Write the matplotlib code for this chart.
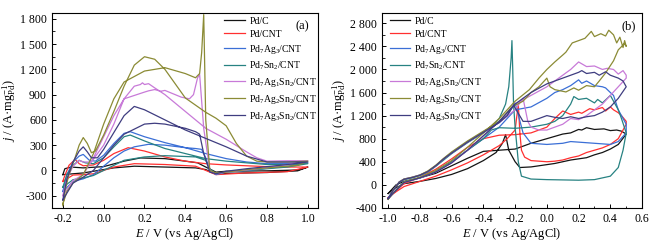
import numpy as np
import matplotlib
matplotlib.use('Agg')
import matplotlib.pyplot as plt
from matplotlib.ticker import MultipleLocator, FuncFormatter

plt.rcParams['font.family'] = ['Liberation Serif', 'DejaVu Serif']
plt.rcParams['mathtext.fontset'] = 'custom'
plt.rcParams['mathtext.rm'] = 'Liberation Serif'
plt.rcParams['mathtext.it'] = 'Liberation Serif:italic'
plt.rcParams['axes.unicode_minus'] = False

labels = ['Pd/C', 'Pd/CNT', 'Pd$_7$Ag$_3$/CNT', 'Pd$_7$Sn$_2$/CNT',
          'Pd$_7$Ag$_1$Sn$_2$/CNT', 'Pd$_7$Ag$_2$Sn$_2$/CNT', 'Pd$_7$Ag$_3$Sn$_2$/CNT']
colors = ['#141414', '#ff3030', '#3b6fd6', '#278282', '#c87ad8', '#8b8b35', '#3f3d80']

# ---- (a) CV, E (V) and j (A/mg Pd), forward then reverse scan
a_pdc = [(-0.2, -50), (-0.19, 20), (-0.16, 40), (-0.1, 30), (0.0, 45), (0.1, 110), (0.18, 148),
         (0.3, 140), (0.4, 110), (0.46, 90), (0.5, 40), (0.55, -20), (0.6, -10), (0.8, -5), (0.95, 5), (1.0, 40),
         (0.95, -5), (0.8, -25), (0.6, -35), (0.55, -45), (0.5, 10), (0.45, 30), (0.3, 40), (0.15, 50),
         (0.05, 30), (0.0, 10), (-0.1, -30), (-0.15, -40), (-0.2, -50)]
a_pdcnt = [(-0.2, -130), (-0.19, -60), (-0.17, 60), (-0.14, 130), (-0.12, 80), (-0.1, 55), (-0.05, 65),
           (0.0, 120), (0.05, 200), (0.12, 270), (0.2, 230), (0.3, 160), (0.4, 110), (0.5, 80), (0.6, 65),
           (0.7, 55), (0.8, 45), (0.9, 40), (1.0, 40),
           (0.9, -15), (0.7, -30), (0.55, -50), (0.5, 0), (0.45, 50), (0.3, 70), (0.15, 80), (0.05, 40),
           (0.0, 0), (-0.05, -40), (-0.1, -50), (-0.15, -55), (-0.2, -130)]
a_pdag = [(-0.2, -250), (-0.18, -50), (-0.15, 100), (-0.12, 170), (-0.1, 190), (-0.07, 120), (-0.04, 110),
          (0.0, 180), (0.05, 320), (0.1, 440), (0.13, 460), (0.2, 400), (0.3, 330), (0.4, 270), (0.5, 200),
          (0.6, 140), (0.7, 100), (0.8, 80), (0.9, 80), (1.0, 90),
          (0.9, 50), (0.7, 0), (0.6, -20), (0.55, -50), (0.52, 0), (0.5, 150), (0.48, 250), (0.45, 260),
          (0.4, 270), (0.3, 300), (0.22, 310), (0.15, 280), (0.1, 230), (0.05, 150), (0.0, 50),
          (-0.05, -50), (-0.1, -100), (-0.15, -130), (-0.2, -250)]
a_pdsn = [(-0.2, -200), (-0.18, -50), (-0.15, 60), (-0.12, 120), (-0.09, 90), (-0.05, 80), (0.0, 150),
          (0.05, 280), (0.1, 400), (0.13, 420), (0.2, 350), (0.3, 260), (0.4, 200), (0.5, 140), (0.6, 110),
          (0.7, 90), (0.8, 70), (0.9, 70), (1.0, 80),
          (0.9, 40), (0.7, 0), (0.6, -20), (0.55, -40), (0.52, 20), (0.5, 120), (0.45, 160), (0.3, 175),
          (0.2, 160), (0.1, 120), (0.05, 60), (0.0, 0), (-0.05, -60), (-0.1, -90), (-0.15, -110), (-0.2, -200)]
a_ag1 = [(-0.2, -300), (-0.18, -100), (-0.15, 50), (-0.12, 120), (-0.1, 100), (-0.06, 100), (0.0, 300),
         (0.05, 550), (0.1, 850), (0.15, 1000), (0.18, 1020), (0.19, 1040), (0.2, 1020), (0.22, 1030),
         (0.25, 980), (0.3, 900), (0.4, 700), (0.5, 500), (0.6, 370), (0.7, 220), (0.75, 150), (0.8, 110),
         (0.9, 115), (1.0, 115),
         (0.9, 70), (0.8, 30), (0.6, -20), (0.55, -40), (0.52, 0), (0.49, 500), (0.47, 1140), (0.46, 1100),
         (0.44, 900), (0.42, 850), (0.38, 870), (0.32, 930), (0.3, 950), (0.28, 940), (0.25, 960),
         (0.22, 945), (0.2, 930), (0.1, 850), (0.05, 650), (0.0, 400), (-0.05, 150), (-0.1, -50),
         (-0.15, -120), (-0.2, -300)]
a_ag2 = [(-0.2, -420), (-0.19, -250), (-0.17, -50), (-0.14, 150), (-0.12, 300), (-0.1, 390), (-0.08, 320),
         (-0.06, 210), (-0.04, 230), (0.0, 420), (0.05, 700), (0.1, 1000), (0.15, 1250), (0.2, 1350),
         (0.25, 1320), (0.3, 1200), (0.4, 860), (0.5, 690), (0.55, 620), (0.6, 530), (0.65, 320), (0.7, 170),
         (0.75, 110), (0.8, 100), (0.9, 100), (1.0, 110),
         (0.95, 60), (0.8, 30), (0.7, 10), (0.6, -20), (0.55, -30), (0.52, 0), (0.5, 600), (0.49, 1850),
         (0.48, 1400), (0.47, 1150), (0.45, 1100), (0.4, 1150), (0.3, 1220), (0.2, 1180), (0.1, 1050),
         (0.05, 850), (0.0, 550), (-0.05, 200), (-0.1, -50), (-0.15, -150), (-0.18, -250), (-0.2, -400)]
a_ag3 = [(-0.2, -350), (-0.18, -100), (-0.15, 100), (-0.12, 230), (-0.1, 280), (-0.08, 220), (-0.06, 150),
         (-0.03, 150), (0.0, 250), (0.05, 450), (0.1, 650), (0.15, 760), (0.2, 720), (0.3, 600), (0.4, 480),
         (0.5, 380), (0.6, 280), (0.7, 170), (0.8, 100), (0.9, 100), (1.0, 100),
         (0.9, 70), (0.7, 20), (0.6, -10), (0.55, -40), (0.52, -20), (0.49, 200), (0.47, 430), (0.45, 460),
         (0.4, 500), (0.3, 550), (0.25, 560), (0.2, 550), (0.1, 430), (0.05, 300), (0.0, 150), (-0.05, 0),
         (-0.1, -80), (-0.15, -150), (-0.2, -350)]

# ---- (b) CV
b_pdc = [(-1.0, -150), (-0.95, -50), (-0.9, 20), (-0.8, 60), (-0.7, 110), (-0.6, 180), (-0.5, 280),
         (-0.4, 420), (-0.32, 560), (-0.28, 720), (-0.26, 870), (-0.24, 600), (-0.2, 400), (-0.17, 300),
         (-0.1, 310), (0.0, 350), (0.05, 370), (0.1, 400), (0.15, 430), (0.2, 450), (0.25, 470), (0.3, 520),
         (0.35, 560), (0.4, 620), (0.45, 700), (0.5, 880),
         (0.47, 930), (0.44, 950), (0.4, 940), (0.36, 970), (0.3, 960), (0.25, 990), (0.22, 950), (0.2, 960),
         (0.15, 900), (0.1, 880), (0.05, 840), (0.0, 800), (-0.1, 720), (-0.2, 620), (-0.3, 600),
         (-0.4, 580), (-0.5, 460), (-0.6, 330), (-0.7, 200), (-0.8, 120), (-0.9, 60), (-0.95, 0), (-1.0, -150)]
b_pdcnt = [(-1.0, -220), (-0.95, -120), (-0.9, -30), (-0.8, 60), (-0.7, 150), (-0.6, 260), (-0.5, 380),
           (-0.4, 520), (-0.3, 680), (-0.25, 800), (-0.2, 950), (-0.18, 1400), (-0.17, 900), (-0.16, 600),
           (-0.14, 480), (-0.1, 420), (0.0, 400), (0.05, 410), (0.1, 430), (0.15, 470), (0.2, 500),
           (0.25, 560), (0.3, 600), (0.35, 640), (0.4, 700), (0.45, 800), (0.5, 1050),
           (0.5, 1100), (0.47, 1200), (0.45, 1250), (0.42, 1300), (0.4, 1350), (0.37, 1280), (0.35, 1340),
           (0.3, 1300), (0.27, 1320), (0.22, 1240), (0.2, 1260), (0.15, 1220), (0.1, 1280), (0.05, 1150),
           (0.0, 1000), (-0.1, 900), (-0.2, 870), (-0.3, 860), (-0.4, 800), (-0.5, 650), (-0.6, 450),
           (-0.7, 270), (-0.8, 130), (-0.9, 20), (-1.0, -220)]
b_pdag = [(-1.0, -230), (-0.97, -100), (-0.93, 50), (-0.9, 100), (-0.85, 130), (-0.8, 170), (-0.75, 230),
          (-0.7, 330), (-0.65, 450), (-0.6, 560), (-0.5, 750), (-0.4, 920), (-0.3, 1080), (-0.25, 1200),
          (-0.2, 1420), (-0.15, 900), (-0.1, 720), (0.0, 700), (0.1, 720), (0.15, 750), (0.2, 740),
          (0.3, 720), (0.4, 700), (0.45, 750), (0.5, 900),
          (0.5, 1050), (0.45, 1300), (0.42, 1550), (0.4, 1600), (0.37, 1680), (0.35, 1700), (0.3, 1720),
          (0.25, 1800), (0.22, 1760), (0.2, 1820), (0.15, 1720), (0.1, 1650), (0.05, 1600), (0.0, 1500),
          (-0.1, 1350), (-0.2, 1300), (-0.3, 1000), (-0.4, 800), (-0.5, 600), (-0.6, 400), (-0.7, 230),
          (-0.8, 120), (-0.9, 50), (-0.97, -150), (-1.0, -230)]
b_pdsn = [(-1.0, -250), (-0.97, -100), (-0.93, 40), (-0.9, 90), (-0.85, 120), (-0.8, 160), (-0.75, 220),
          (-0.7, 320), (-0.65, 430), (-0.6, 540), (-0.5, 730), (-0.4, 900), (-0.35, 1000), (-0.3, 1150),
          (-0.26, 1400), (-0.24, 1700), (-0.225, 2200), (-0.22, 2500), (-0.215, 2000), (-0.21, 1400),
          (-0.2, 1000), (-0.18, 400), (-0.16, 150), (-0.1, 100), (0.0, 90), (0.2, 80), (0.3, 90), (0.4, 150),
          (0.45, 300), (0.48, 600), (0.5, 900),
          (0.47, 1150), (0.45, 1300), (0.42, 1450), (0.4, 1550), (0.35, 1420), (0.32, 1480), (0.3, 1420),
          (0.25, 1500), (0.2, 1480), (0.17, 1530), (0.15, 1400), (0.1, 1200), (0.05, 1100), (0.0, 1050),
          (-0.1, 1000), (-0.2, 980), (-0.3, 990), (-0.35, 950), (-0.4, 800), (-0.5, 600), (-0.6, 400),
          (-0.7, 230), (-0.8, 120), (-0.9, 50), (-0.97, -150), (-1.0, -250)]
b_ag1 = [(-1.0, -250), (-0.97, -100), (-0.93, 50), (-0.9, 100), (-0.85, 130), (-0.8, 170), (-0.75, 230),
         (-0.7, 330), (-0.65, 450), (-0.6, 550), (-0.5, 740), (-0.4, 910), (-0.3, 1080), (-0.2, 1300),
         (-0.15, 1500), (-0.12, 1100), (-0.1, 1000), (-0.05, 950), (0.0, 950), (0.1, 1050), (0.15, 1150),
         (0.2, 1130), (0.25, 1200), (0.3, 1300), (0.35, 1400), (0.4, 1550), (0.45, 1700), (0.5, 1850),
         (0.5, 1900), (0.48, 1980), (0.45, 1920), (0.42, 2000), (0.38, 2020), (0.35, 2000), (0.3, 2060),
         (0.25, 2050), (0.2, 2130), (0.15, 2000), (0.1, 1900), (0.0, 1700), (-0.1, 1550), (-0.2, 1400),
         (-0.3, 1100), (-0.4, 850), (-0.5, 600), (-0.6, 380), (-0.7, 220), (-0.8, 120), (-0.9, 40),
         (-0.97, -150), (-1.0, -250)]
b_ag2 = [(-1.0, -250), (-0.97, -100), (-0.93, 50), (-0.9, 100), (-0.85, 130), (-0.8, 170), (-0.75, 240),
         (-0.7, 340), (-0.65, 460), (-0.6, 570), (-0.5, 760), (-0.4, 930), (-0.3, 1100), (-0.22, 1350),
         (-0.15, 1450), (-0.1, 1600), (-0.05, 1700), (0.0, 1850), (0.02, 1700), (0.05, 1650), (0.12, 1610),
         (0.17, 1680), (0.2, 1640), (0.25, 1720), (0.3, 1700), (0.33, 1800), (0.37, 1940), (0.42, 2150),
         (0.45, 2340), (0.49, 2450),
         (0.5, 2400), (0.49, 2500), (0.48, 2380), (0.46, 2560), (0.44, 2460), (0.42, 2600), (0.39, 2680),
         (0.37, 2580), (0.34, 2620), (0.3, 2570), (0.28, 2660), (0.24, 2540), (0.2, 2500), (0.16, 2460),
         (0.12, 2300), (0.1, 2250), (0.05, 2130), (0.0, 2000), (-0.05, 1850), (-0.11, 1650), (-0.2, 1450),
         (-0.3, 1150), (-0.4, 900), (-0.5, 650), (-0.6, 420), (-0.7, 250), (-0.8, 130), (-0.9, 50),
         (-0.97, -150), (-1.0, -250)]
b_ag3 = [(-1.0, -240), (-0.97, -100), (-0.93, 45), (-0.9, 95), (-0.85, 125), (-0.8, 165), (-0.75, 230),
         (-0.7, 330), (-0.65, 450), (-0.6, 550), (-0.5, 740), (-0.4, 910), (-0.3, 1080), (-0.25, 1200),
         (-0.21, 1380), (-0.15, 1100), (-0.1, 1100), (-0.05, 1150), (0.0, 1200), (0.05, 1170), (0.1, 1150),
         (0.15, 1180), (0.2, 1150), (0.25, 1180), (0.3, 1200), (0.35, 1260), (0.4, 1350), (0.45, 1500),
         (0.5, 1700),
         (0.48, 1800), (0.45, 1850), (0.4, 1900), (0.37, 1960), (0.33, 1900), (0.3, 1950), (0.25, 1930),
         (0.22, 1980), (0.2, 1950), (0.15, 1900), (0.1, 1850), (0.0, 1750), (-0.1, 1600), (-0.2, 1400),
         (-0.3, 1100), (-0.4, 850), (-0.5, 600), (-0.6, 380), (-0.7, 220), (-0.8, 120), (-0.9, 40),
         (-0.97, -150), (-1.0, -240)]

curves_a = [a_pdc, a_pdcnt, a_pdag, a_pdsn, a_ag1, a_ag2, a_ag3]
curves_b = [b_pdc, b_pdcnt, b_pdag, b_pdsn, b_ag1, b_ag2, b_ag3]


def sep(v, pos):
    return '{:,.0f}'.format(v).replace(',', ' ')


fig = plt.figure(figsize=(6.64, 2.44), dpi=100)
axa = fig.add_axes([0.078, 0.148, 0.401, 0.799])
axb = fig.add_axes([0.575, 0.148, 0.392, 0.799])

for ax, curves in [(axa, curves_a), (axb, curves_b)]:
    for pts, c, lab in zip(curves, colors, labels):
        arr = np.array(pts)
        ax.plot(arr[:, 0], arr[:, 1], color=c, lw=0.9, label=lab)
    ax.tick_params(direction='in', labelsize=8.5, length=3, width=0.7)
    ax.tick_params(which='minor', direction='in', length=1.8, width=0.6)
    ax.yaxis.set_major_formatter(FuncFormatter(sep))
    ax.xaxis.set_major_formatter(FuncFormatter(lambda v, p: '{:.1f}'.format(v)))
    ax.xaxis.set_major_locator(MultipleLocator(0.2))
    ax.xaxis.set_minor_locator(MultipleLocator(0.1))
    ax.set_xlabel('$E$ / V (vs Ag/AgCl)', fontsize=9, labelpad=1)
    ax.set_ylabel('$j$ / (A·mg$_{\\rm Pd}^{-1}$)', fontsize=9, labelpad=1)
    for s in ax.spines.values():
        s.set_linewidth(0.8)

axa.set_xlim(-0.254, 1.05)
axa.set_ylim(-445, 1870)
axa.yaxis.set_major_locator(MultipleLocator(300))
axa.yaxis.set_minor_locator(MultipleLocator(150))
axa.text(0.94, 0.93, '(a)', transform=axa.transAxes, ha='center', va='center', fontsize=9)
axa.legend(loc='upper left', bbox_to_anchor=(0.634, 1.0), frameon=False, fontsize=7,
           handlelength=2.1, handletextpad=0.45, labelspacing=0.4, borderaxespad=0)

axb.set_xlim(-1.04, 0.6)
axb.set_ylim(-400, 2980)
axb.yaxis.set_major_locator(MultipleLocator(400))
axb.yaxis.set_minor_locator(MultipleLocator(200))
axb.text(0.95, 0.93, '(b)', transform=axb.transAxes, ha='center', va='center', fontsize=9)
axb.legend(loc='upper left', bbox_to_anchor=(0.015, 1.0), frameon=False, fontsize=7,
           handlelength=2.1, handletextpad=0.45, labelspacing=0.4, borderaxespad=0)

fig.savefig('out.png', dpi=100)
